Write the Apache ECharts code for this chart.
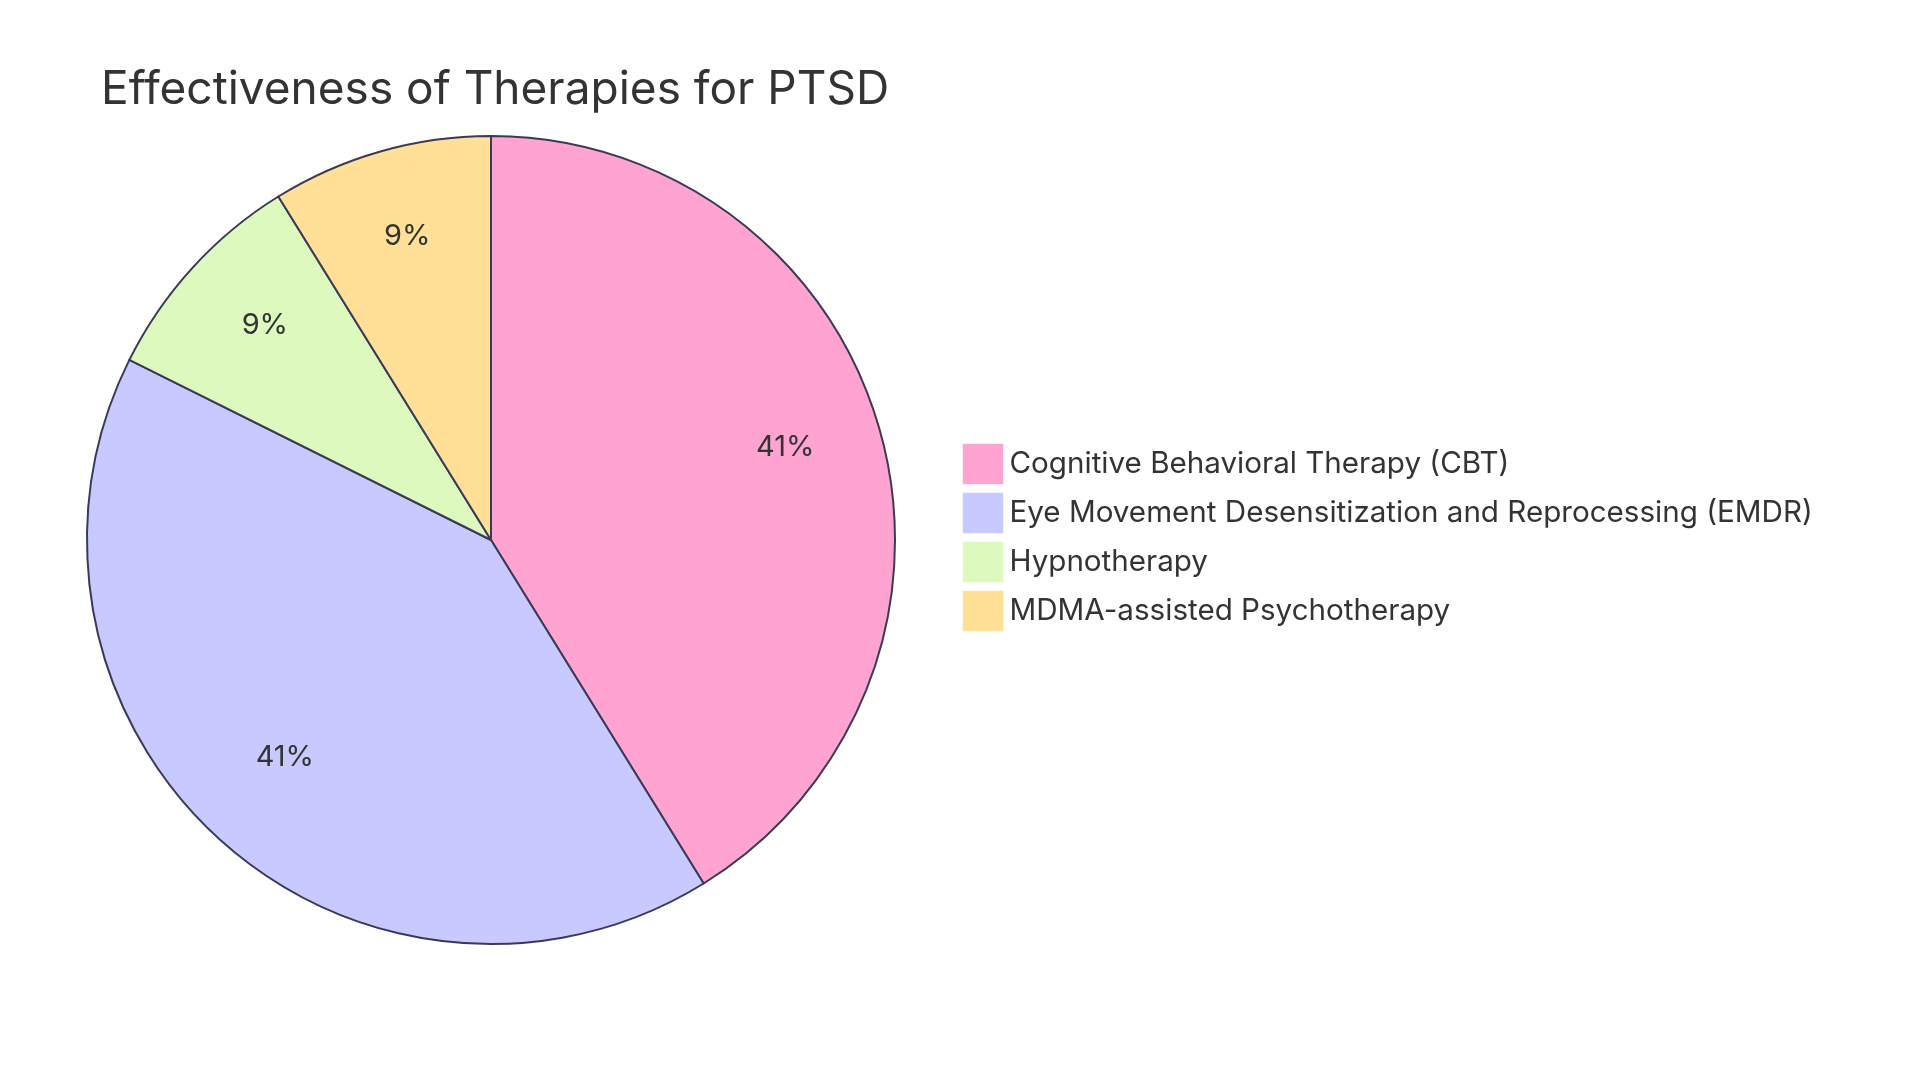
<!DOCTYPE html>
<html>
<head>
<meta charset="utf-8">
<script src="https://cdn.jsdelivr.net/npm/echarts@6/dist/echarts.min.js"></script>
<style>
  html, body { margin: 0; padding: 0; background: #fff; }
  #chart { width: 1920px; height: 1083px; }
</style>
</head>
<body>
<div id="chart"></div>
<script>
const therapies = [
  "Cognitive Behavioral Therapy (CBT)",
  "Eye Movement Desensitization and Reprocessing (EMDR)",
  "Hypnotherapy",
  "MDMA-assisted Psychotherapy"
];
const effectiveness = [70, 70, 15, 15];
const sliceColors = ["#FFA4D0", "#C8CAFF", "#DDF9BE", "#FFE096"];

const FONT = "Inter, 'Noto Sans', sans-serif";
const center = [491, 540];
const R = 404;

const chart = echarts.init(document.getElementById("chart"));
const pieData = therapies.map((name, i) => ({
  name,
  value: effectiveness[i],
  itemStyle: { color: sliceColors[i] }
}));

chart.setOption({
  animation: false,
  title: {
    text: "Effectiveness of Therapies for PTSD",
    left: 96,
    top: 62,
    textStyle: { fontFamily: FONT, fontSize: 46, fontWeight: "normal", color: "#333" }
  },
  legend: {
    orient: "vertical",
    left: 962,
    top: 443,
    padding: 0,
    itemWidth: 41,
    itemHeight: 41,
    itemGap: 7,
    icon: "rect",
    selectedMode: false,
    data: therapies,
    itemStyle: { borderWidth: 1, borderColor: "rgba(255,255,255,0.6)" },
    textStyle: { fontFamily: FONT, fontSize: 29.6, color: "#333", padding: [0, 0, 0, 1] }
  },
  series: [
    {
      type: "pie",
      center,
      radius: [0, R],
      startAngle: 90,
      clockwise: true,
      percentPrecision: 0,
      silent: true,
      label: { show: false },
      labelLine: { show: false },
      itemStyle: { borderColor: "#3A3A58", borderWidth: 2 },
      data: pieData
    },
    {
      // transparent ring used only to place labels at 0.75 of radius
      type: "pie",
      center,
      radius: [R / 2, R],
      startAngle: 90,
      clockwise: true,
      percentPrecision: 0,
      silent: true,
      label: {
        show: true,
        position: "inside",
        formatter: "{d}%",
        fontFamily: FONT,
        fontSize: 29,
        color: "#333"
      },
      labelLayout: { dy: -9 },
      labelLine: { show: false },
      itemStyle: { color: "rgba(0,0,0,0)", borderWidth: 0 },
      data: therapies.map((name, i) => ({ name, value: effectiveness[i] }))
    }
  ]
});
</script>
</body>
</html>
